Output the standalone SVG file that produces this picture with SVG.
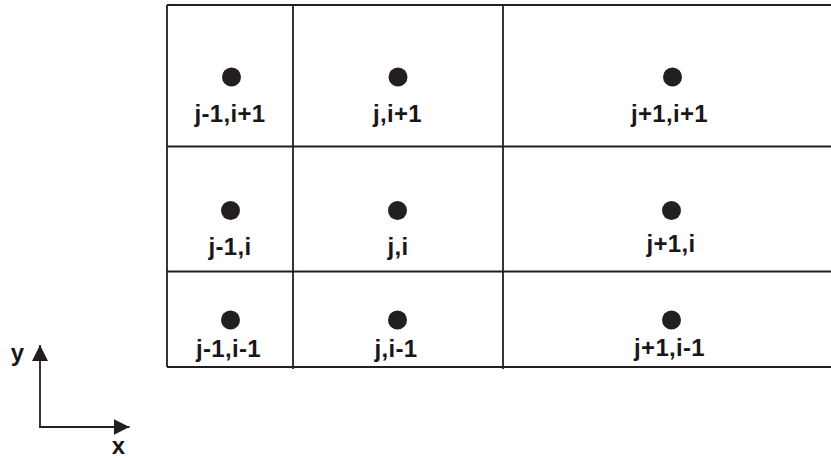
<svg xmlns="http://www.w3.org/2000/svg" width="831" height="458" viewBox="0 0 831 458">
<style>
.g{stroke:#231f20;stroke-width:1.8;fill:none}
.d{fill:#231f20}
.t{font-family:"Liberation Sans",Arial,sans-serif;font-weight:bold;font-size:24px;fill:#1a1718;text-anchor:middle;letter-spacing:0.3px}
</style>
<defs>
<marker id="ah" viewBox="0 0 10 10" refX="10" refY="5" markerWidth="16" markerHeight="16" markerUnits="userSpaceOnUse" orient="auto">
<path d="M0,0 L10,5 L0,10 Z" fill="#231f20"/>
</marker>
</defs>
<g id="grid">
<line class="g" x1="167" y1="5" x2="831" y2="5"/>
<line class="g" x1="167" y1="146.5" x2="831" y2="146.5"/>
<line class="g" x1="167" y1="271.5" x2="831" y2="271.5"/>
<line class="g" x1="167" y1="367" x2="831" y2="367"/>
<line class="g" x1="167" y1="5" x2="167" y2="367"/>
<line class="g" x1="293" y1="5" x2="293" y2="369"/>
<line class="g" x1="503" y1="5" x2="503" y2="369"/>
</g>
<g id="n-jm1-ip1"><circle class="d" cx="231.5" cy="77" r="9.5"/><text class="t" x="230" y="122">j-1,i+1</text></g>
<g id="n-j-ip1"><circle class="d" cx="398" cy="77" r="9.5"/><text class="t" x="397.5" y="122">j,i+1</text></g>
<g id="n-jp1-ip1"><circle class="d" cx="672.5" cy="77" r="9.5"/><text class="t" x="669.5" y="122">j+1,i+1</text></g>
<g id="n-jm1-i"><circle class="d" cx="230.5" cy="210.5" r="9.5"/><text class="t" x="230" y="255">j-1,i</text></g>
<g id="n-j-i"><circle class="d" cx="397.5" cy="210.5" r="9.5"/><text class="t" x="398" y="255">j,i</text></g>
<g id="n-jp1-i"><circle class="d" cx="671.5" cy="210.5" r="9.5"/><text class="t" x="671" y="252">j+1,i</text></g>
<g id="n-jm1-im1"><circle class="d" cx="230.5" cy="320" r="9.5"/><text class="t" x="228.5" y="357">j-1,i-1</text></g>
<g id="n-j-im1"><circle class="d" cx="397.5" cy="320" r="9.5"/><text class="t" x="396" y="357">j,i-1</text></g>
<g id="n-jp1-im1"><circle class="d" cx="671.5" cy="320" r="9.5"/><text class="t" x="669.5" y="356">j+1,i-1</text></g>
<g id="connectors">
<path class="g" d="M40,427 L40,345" marker-end="url(#ah)"/>
<path class="g" d="M39.1,427 L129.5,427" marker-end="url(#ah)"/>
</g>
<g id="axis-labels">
<text class="t" x="17.5" y="361">y</text>
<text class="t" x="118.5" y="454">x</text>
</g>
</svg>
